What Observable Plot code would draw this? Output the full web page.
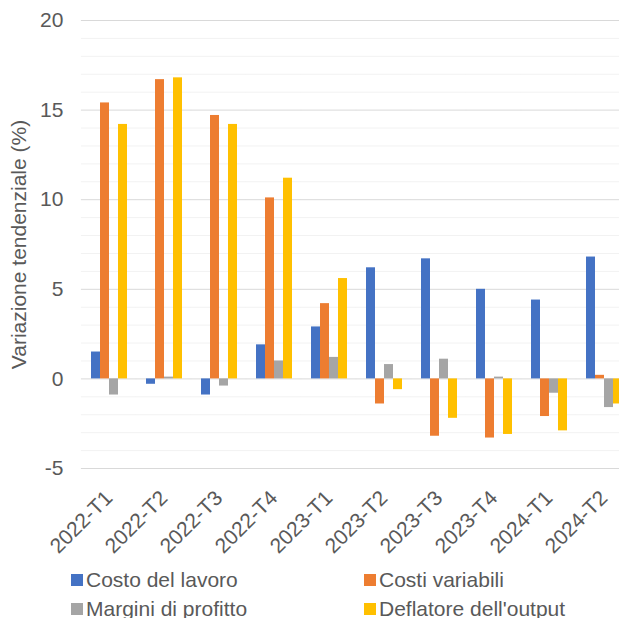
<!DOCTYPE html>
<html>
<head>
<meta charset="utf-8">
<script src="https://cdn.jsdelivr.net/npm/d3@7"></script>
<script src="https://cdn.jsdelivr.net/npm/@observablehq/plot@0.6"></script>
<style>
  body { margin: 0; background: #fff; font-family: "Liberation Sans", Arial, sans-serif; }
  #wrap { position: relative; width: 619px; height: 618px; overflow: hidden; }
  #chart svg { display: block; max-width: none !important; }
  .legend { position: absolute; left: 0; top: 565px; width: 619px; color: #595959; font-size: 21px; }
  .item { position: absolute; display: flex; align-items: center; height: 29px; white-space: nowrap; }
  .sw { width: 12px; height: 12px; margin-right: 3px; flex: none; }
</style>
</head>
<body>
<div id="wrap">
  <div id="chart"></div>
  <div class="legend" id="legend"></div>
</div>
<script>
// Quarters and the four year-on-year series (%)
const quarters = ["2022-T1", "2022-T2", "2022-T3", "2022-T4", "2023-T1", "2023-T2", "2023-T3", "2023-T4", "2024-T1", "2024-T2"];
const series = ["Costo del lavoro", "Costi variabili", "Margini di profitto", "Deflatore dell'output"];
const costoLavoro = [1.5, -0.3, -0.9, 1.9, 2.9, 6.2, 6.7, 5.0, 4.4, 6.8];
const costiVariabili = [15.4, 16.7, 14.7, 10.1, 4.2, -1.4, -3.2, -3.3, -2.1, 0.2];
const marginiProfitto = [-0.9, 0.1, -0.4, 1.0, 1.2, 0.8, 1.1, 0.1, -0.8, -1.6];
const deflatoreOutput = [14.2, 16.8, 14.2, 11.2, 5.6, -0.6, -2.2, -3.1, -2.9, -1.4];
const colors = ["#4472C4", "#ED7D31", "#A5A5A5", "#FFC000"];
const yTicks = [-5, 0, 5, 10, 15, 20];
const yTitle = "Variazione tendenziale (%)";

const valuesBySeries = [costoLavoro, costiVariabili, marginiProfitto, deflatoreOutput];
const rows = quarters.flatMap((q, i) =>
  series.map((s, j) => ({quarter: q, series: s, value: valuesBySeries[j][i]}))
);
const minorTicks = d3.range(yTicks[0], yTicks[yTicks.length - 1] + 1).filter(v => v % 5 !== 0);

// Layout of the quarter groups (the last group runs past the right edge)
const W = 631, ML = 80, MR = 0;
const padInner = 0.294, padOuter = padInner / 2;
const step = (W - ML - MR) / (quarters.length - padInner + 2 * padOuter);
const gapHalf = padOuter * step; // extends gridlines across the gaps between groups

const chart = Plot.plot({
  width: W,
  height: 563,
  marginLeft: ML,
  marginRight: MR,
  marginTop: 20,
  marginBottom: 95,
  facet: {marginTop: 0, marginRight: 0, marginBottom: 0, marginLeft: 0},
  style: {color: "#595959", fontFamily: "'Liberation Sans', Arial, sans-serif", background: "white"},
  fx: {domain: quarters, paddingInner: padInner, paddingOuter: padOuter, label: null, axis: null},
  x: {domain: series, padding: 0, axis: null},
  y: {domain: [yTicks[0], yTicks[yTicks.length - 1]], axis: null},
  color: {domain: series, range: colors},
  marks: [
    Plot.ruleY(minorTicks, {stroke: "#F2F2F2", strokeWidth: 1, insetLeft: -gapHalf, insetRight: -gapHalf}),
    Plot.ruleY(yTicks, {stroke: "#D9D9D9", strokeWidth: 1, insetLeft: -gapHalf, insetRight: -gapHalf}),
    Plot.barY(rows, {fx: "quarter", x: "series", y: "value", fill: "series"}),
    Plot.axisY({ticks: yTicks, tickFormat: d => String(d), tickSize: 0, tickPadding: 18 + gapHalf, fontSize: 21,
                label: yTitle, labelAnchor: "center", labelArrow: "none", labelOffset: 70 + gapHalf}),
    Plot.axisFx({anchor: "bottom", tickRotate: -45, tickSize: 0, tickPadding: 26, dx: 0, fontSize: 21, label: null})
  ]
});
document.getElementById("chart").append(chart);

// Legend: two columns, two rows
const legend = document.getElementById("legend");
const colX = [71, 364];
series.forEach((s, i) => {
  const item = document.createElement("div");
  item.className = "item";
  item.style.left = colX[i % 2] + "px";
  item.style.top = (Math.floor(i / 2) * 29) + "px";
  const sw = document.createElement("span");
  sw.className = "sw";
  sw.style.background = colors[i];
  const label = document.createElement("span");
  label.textContent = s;
  item.append(sw, label);
  legend.append(item);
});
</script>
</body>
</html>
